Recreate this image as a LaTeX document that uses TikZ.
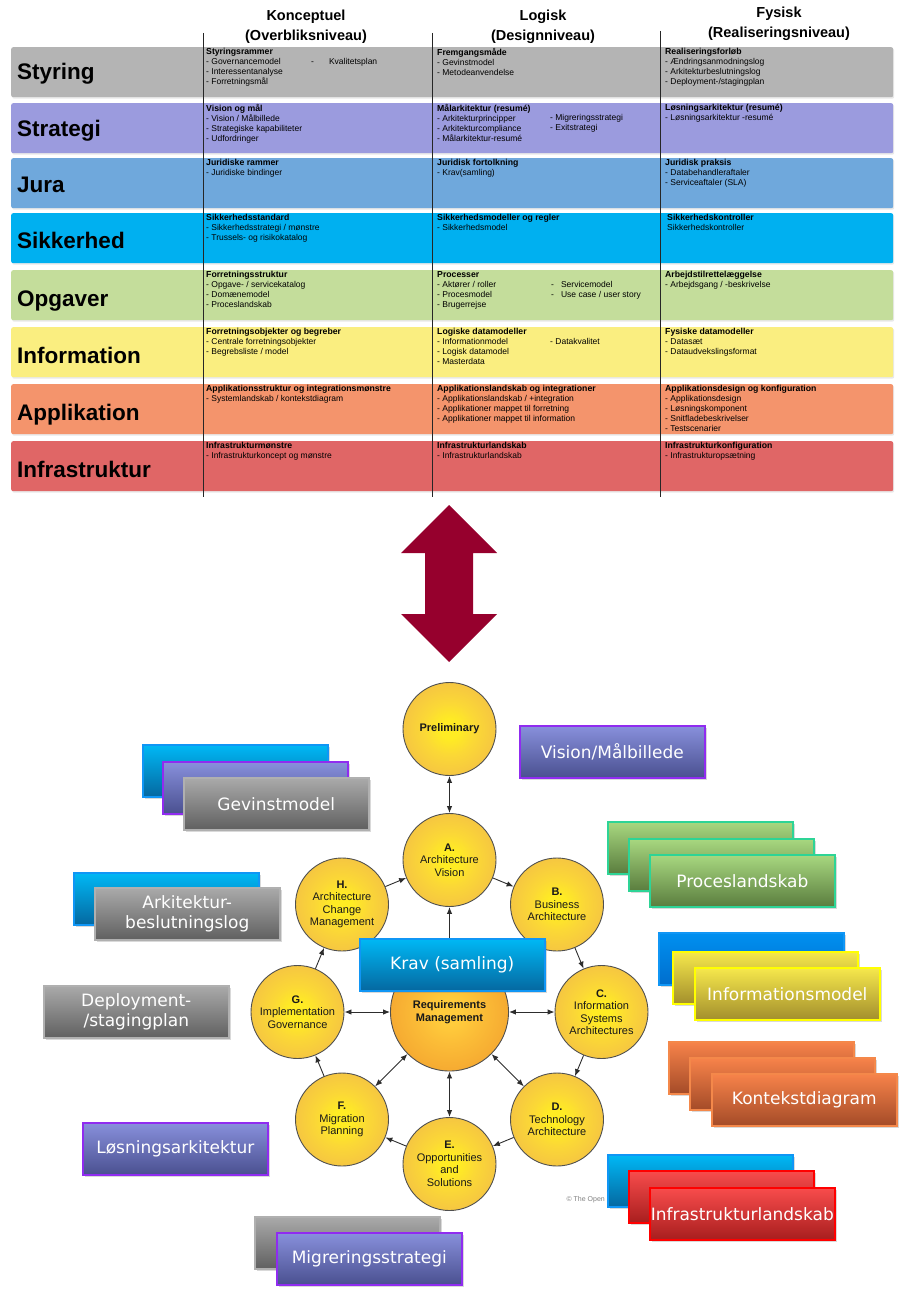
\documentclass[tikz,border=0pt]{standalone}
\usepackage{fontspec}
\setmainfont{Liberation Sans}
\newfontfamily\boxfont{DejaVu Sans}
\usetikzlibrary{arrows.meta,shadows}

\definecolor{rowStyr}{RGB}{180,180,180}
\definecolor{rowStrat}{RGB}{155,155,222}
\definecolor{rowJura}{RGB}{111,168,220}
\definecolor{rowSik}{RGB}{0,176,240}
\definecolor{rowOpg}{RGB}{196,221,155}
\definecolor{rowInfo}{RGB}{250,238,128}
\definecolor{rowApp}{RGB}{244,148,108}
\definecolor{rowInfra}{RGB}{224,102,102}
\definecolor{bigArrow}{RGB}{150,0,45}
\definecolor{ballIn}{RGB}{255,236,35}
\definecolor{ballA}{RGB}{251,216,54}
\definecolor{ballMid}{RGB}{246,200,64}
\definecolor{ballOut}{RGB}{242,190,66}
\definecolor{reqIn}{RGB}{255,204,60}
\definecolor{reqA}{RGB}{251,188,55}
\definecolor{reqMid}{RGB}{246,172,50}
\definecolor{reqOut}{RGB}{238,160,48}
\definecolor{circBorder}{RGB}{80,80,80}
\definecolor{arrowCol}{RGB}{45,45,45}
\definecolor{blueT}{RGB}{0,184,245}
\definecolor{blueB}{RGB}{5,104,160}
\definecolor{blueL}{RGB}{16,150,245}
\definecolor{purpT}{RGB}{136,144,220}
\definecolor{purpB}{RGB}{74,80,144}
\definecolor{purpL}{RGB}{144,44,240}
\definecolor{grayT}{RGB}{170,170,170}
\definecolor{grayB}{RGB}{96,96,96}
\definecolor{grayL}{RGB}{176,176,176}
\definecolor{greenT}{RGB}{168,216,128}
\definecolor{greenB}{RGB}{90,125,62}
\definecolor{greenL}{RGB}{46,212,150}
\definecolor{yelT}{RGB}{246,232,76}
\definecolor{yelB}{RGB}{163,143,44}
\definecolor{yelL}{RGB}{255,255,0}
\definecolor{oraT}{RGB}{247,131,74}
\definecolor{oraB}{RGB}{164,75,40}
\definecolor{oraL}{RGB}{244,136,74}
\definecolor{redT}{RGB}{248,76,76}
\definecolor{redB}{RGB}{168,30,30}
\definecolor{redL}{RGB}{255,0,0}
\definecolor{blue2T}{RGB}{0,144,240}
\definecolor{blue2B}{RGB}{0,110,205}

\pgfdeclareradialshading{ball}{\pgfpoint{0bp}{0bp}}{color(0bp)=(ballIn); color(5bp)=(ballIn); color(14bp)=(ballA); color(24bp)=(ballMid); color(34bp)=(ballOut); color(50bp)=(ballOut)}
\pgfdeclareradialshading{reqball}{\pgfpoint{0bp}{0bp}}{color(0bp)=(reqIn); color(5bp)=(reqIn); color(14bp)=(reqA); color(24bp)=(reqMid); color(34bp)=(reqOut); color(50bp)=(reqOut)}

\newcommand{\ttl}[1]{{\bfseries\fontsize{8.7}{10}\selectfont #1}}

\begin{document}
\begin{tikzpicture}[x=1pt,y=-1pt,
  rowbox/.style={anchor=north west, minimum width=882pt, minimum height=50pt, inner sep=0pt, rounded corners=2pt, drop shadow={shadow xshift=1pt, shadow yshift=-1.5pt, opacity=0.18}},
  rowlabel/.style={anchor=base west, inner sep=0pt, font=\bfseries\fontsize{22.5}{26}\selectfont},
  colhead/.style={align=center, inner sep=0pt, font=\bfseries\fontsize{14.5}{20}\selectfont},
  cell/.style={anchor=north west, inner sep=0pt, align=left, font=\fontsize{8.5}{10}\selectfont},
  subitem/.style={anchor=base west, inner sep=0pt, font=\fontsize{8.5}{10}\selectfont},
  vline/.style={draw=black!85, line width=1pt},
  phase/.style={circle, draw=circBorder, line width=0.9pt, shade, shading=ball, minimum size=93pt, inner sep=0pt, align=center, font=\fontsize{11}{12.5}\selectfont, text=black!90},
  reqphase/.style={phase, shading=reqball, minimum size=118pt},
  conn/.style={draw=arrowCol, line width=0.9pt, -{Latex[length=7pt,width=5.5pt]}},
  dbl/.style={draw=arrowCol, line width=0.9pt, {Latex[length=7pt,width=5.5pt]}-{Latex[length=7pt,width=5.5pt]}},
  card/.style={anchor=north west, minimum width=185pt, minimum height=52pt, inner sep=0pt, line width=1.6pt, align=center, text=white, font=\boxfont\fontsize{17}{19.5}\selectfont, drop shadow={shadow xshift=2pt, shadow yshift=-2.5pt, opacity=0.3}},
  bluecard/.style={card, draw=blueL, top color=blueT, bottom color=blueB},
  blue2card/.style={card, draw=blueL, top color=blue2T, bottom color=blue2B},
  purpcard/.style={card, draw=purpL, top color=purpT, bottom color=purpB},
  graycard/.style={card, draw=grayL, top color=grayT, bottom color=grayB},
  greencard/.style={card, draw=greenL, top color=greenT, bottom color=greenB},
  yelcard/.style={card, draw=yelL, top color=yelT, bottom color=yelB},
  oracard/.style={card, draw=oraL, top color=oraT, bottom color=oraB},
  redcard/.style={card, draw=redL, top color=redT, bottom color=redB}
]
\useasboundingbox (0,0) rectangle (904,1297);

% column headers
\node[colhead] (h1) at (306,27) {Konceptuel\\(Overbliksniveau)};
\node[colhead] (h2) at (543,27) {Logisk\\(Designniveau)};
\node[colhead] (h3) at (779,24) {Fysisk\\(Realiseringsniveau)};

% rows
\node[rowbox, fill=rowStyr] (r0) at (11,47) {};
\node[rowbox, fill=rowStrat] (r1) at (11,103) {};
\node[rowbox, fill=rowJura] (r2) at (11,158) {};
\node[rowbox, fill=rowSik] (r3) at (11,213) {};
\node[rowbox, fill=rowOpg] (r4) at (11,270) {};
\node[rowbox, fill=rowInfo] (r5) at (11,327) {};
\node[rowbox, fill=rowApp] (r6) at (11,384) {};
\node[rowbox, fill=rowInfra] (r7) at (11,441) {};

\node[rowlabel] (l0) at (17,80) {Styring};
\node[rowlabel] (l1) at (17,137) {Strategi};
\node[rowlabel] (l2) at (17,193) {Jura};
\node[rowlabel] (l3) at (17,248) {Sikkerhed};
\node[rowlabel] (l4) at (17,306) {Opgaver};
\node[rowlabel] (l5) at (17,363) {Information};
\node[rowlabel] (l6) at (17,420) {Applikation};
\node[rowlabel] (l7) at (17,477) {Infrastruktur};

% row 0
\node[cell] (c01) at (206,48) {\ttl{Styringsrammer}\\- Governancemodel\\- Interessentanalyse\\- Forretningsmål};
\node[subitem] (c01b) at (311,64.4) {-\hspace{15pt}Kvalitetsplan};
\node[cell] (c02) at (437,48) {\ttl{Fremgangsmåde}\\- Gevinstmodel\\- Metodeanvendelse};
\node[cell] (c03) at (665,48) {\ttl{Realiseringsforløb}\\- Ændringsanmodningslog\\- Arkitekturbeslutningslog\\- Deployment-/stagingplan};
% row 1
\node[cell] (c11) at (206,104) {\ttl{Vision og mål}\\- Vision / Målbillede\\- Strategiske kapabiliteter\\- Udfordringer};
\node[cell] (c12) at (437,104) {\ttl{Målarkitektur (resumé)}\\- Arkitekturprincipper\\- Arkitekturcompliance\\- Målarkitektur-resumé};
\node[subitem] (c12b) at (550,120.4) {- Migreringsstrategi};
\node[subitem] (c12c) at (550,130.4) {- Exitstrategi};
\node[cell] (c13) at (665,104) {\ttl{Løsningsarkitektur (resumé)}\\- Løsningsarkitektur -resumé};
% row 2
\node[cell] (c21) at (206,159) {\ttl{Juridiske rammer}\\- Juridiske bindinger};
\node[cell] (c22) at (437,159) {\ttl{Juridisk fortolkning}\\- Krav(samling)};
\node[cell] (c23) at (665,159) {\ttl{Juridisk praksis}\\- Databehandleraftaler\\- Serviceaftaler (SLA)};
% row 3
\node[cell] (c31) at (206,214) {\ttl{Sikkerhedsstandard}\\- Sikkerhedsstrategi / mønstre\\- Trussels- og risikokatalog};
\node[cell] (c32) at (437,214) {\ttl{Sikkerhedsmodeller og regler}\\- Sikkerhedsmodel};
\node[cell] (c33) at (667,214) {\ttl{Sikkerhedskontroller}\\Sikkerhedskontroller};
% row 4
\node[cell] (c41) at (206,271) {\ttl{Forretningsstruktur}\\- Opgave- / servicekatalog\\- Domænemodel\\- Proceslandskab};
\node[cell] (c42) at (437,271) {\ttl{Processer}\\- Aktører / roller\\- Procesmodel\\- Brugerrejse};
\node[subitem] (c42b) at (551,287.4) {-\hspace{7pt}Servicemodel};
\node[subitem] (c42c) at (551,297.4) {-\hspace{7pt}Use case / user story};
\node[cell] (c43) at (665,271) {\ttl{Arbejdstilrettelæggelse}\\- Arbejdsgang / -beskrivelse};
% row 5
\node[cell] (c51) at (206,328) {\ttl{Forretningsobjekter og begreber}\\- Centrale forretningsobjekter\\- Begrebsliste / model};
\node[cell] (c52) at (437,328) {\ttl{Logiske datamodeller}\\- Informationmodel\\- Logisk datamodel\\- Masterdata};
\node[subitem] (c52b) at (550,344.4) {- Datakvalitet};
\node[cell] (c53) at (665,328) {\ttl{Fysiske datamodeller}\\- Datasæt\\- Dataudvekslingsformat};
% row 6
\node[cell] (c61) at (206,385) {\ttl{Applikationsstruktur og integrationsmønstre}\\- Systemlandskab / kontekstdiagram};
\node[cell] (c62) at (437,385) {\ttl{Applikationslandskab og integrationer}\\- Applikationslandskab / +integration\\- Applikationer mappet til forretning\\- Applikationer mappet til information};
\node[cell] (c63) at (665,385) {\ttl{Applikationsdesign og konfiguration}\\- Applikationsdesign\\- Løsningskomponent\\- Snitfladebeskrivelser\\- Testscenarier};
% row 7
\node[cell] (c71) at (206,442) {\ttl{Infrastrukturmønstre}\\- Infrastrukturkoncept og mønstre};
\node[cell] (c72) at (437,442) {\ttl{Infrastrukturlandskab}\\- Infrastrukturlandskab};
\node[cell] (c73) at (665,442) {\ttl{Infrastrukturkonfiguration}\\- Infrastrukturopsætning};

% vertical separators
\draw[vline] (203,33) -- (203,497);
\draw[vline] (432,33) -- (432,497);
\draw[vline] (660,31) -- (660,497);

% big double arrow
\fill[bigArrow] (449,505) -- (497,553) -- (473,553) -- (473,614) -- (497,614) -- (449,662) -- (401,614) -- (425,614) -- (425,553) -- (401,553) -- cycle;

% back cards
\node[bluecard] (gv1) at (142,744) {};
\node[purpcard] (gv2) at (162,761) {};
\node[graycard] (gv3) at (183,777) {Gevinstmodel};
\node[bluecard] (ak1) at (73,872) {};
\node[graycard] (ak2) at (94,887) {Arkitektur-\\beslutningslog};
\node[graycard] (dep) at (43,985) {Deployment-\\/stagingplan};
\node[purpcard] (vis) at (519,725) {Vision/Målbillede};
\node[greencard] (pl1) at (607,821) {};
\node[greencard] (pl2) at (628,838) {};
\node[greencard] (pl3) at (649,854) {Proceslandskab};
\node[blue2card] (im1) at (658,932) {};
\node[yelcard] (im2) at (672,951) {};
\node[yelcard] (im3) at (694,967) {Informationsmodel};
\node[oracard] (kd1) at (668,1041) {};
\node[oracard] (kd2) at (689,1057) {};
\node[oracard] (kd3) at (711,1073) {Kontekstdiagram};
\node[bluecard] (il1) at (607,1154) {};
\node[redcard] (il2) at (628,1170) {};
\node[redcard] (il3) at (649,1187) {Infrastrukturlandskab};
\node[purpcard] (los) at (82,1122) {Løsningsarkitektur};
\node[graycard] (mg1) at (254,1216) {};
\node[purpcard] (mg2) at (276,1232) {Migreringsstrategi};

% ADM circles
\node[phase] (pre) at (449.5,729) {\textbf{Preliminary}};
\node[phase] (A) at (449.5,860) {\textbf{A.}\\Architecture\\Vision};
\node[phase] (B) at (557,904.5) {\textbf{B.}\\Business\\Architecture};
\node[phase] (C) at (601.5,1012) {\textbf{C.}\\Information\\Systems\\Architectures};
\node[phase] (D) at (557,1119.5) {\textbf{D.}\\Technology\\Architecture};
\node[phase] (E) at (449.5,1164) {\textbf{E.}\\Opportunities\\and\\Solutions};
\node[phase] (F) at (342,1119.5) {\textbf{F.}\\Migration\\Planning};
\node[phase] (G) at (297.5,1012) {\textbf{G.}\\Implementation\\Governance};
\node[phase] (H) at (342,904.5) {\textbf{H.}\\Architecture\\Change\\Management};
\node[reqphase] (req) at (449.5,1012) {\textbf{Requirements}\\\textbf{Management}};

\node[anchor=east, inner sep=0pt, font=\fontsize{7}{8}\selectfont, text=black!50] (copy) at (605,1200) {© The Open};

% connectors
\draw[dbl] (pre) -- (A);
\draw[conn] (A) -- (B);
\draw[conn] (B) -- (C);
\draw[conn] (C) -- (D);
\draw[conn] (D) -- (E);
\draw[conn] (E) -- (F);
\draw[conn] (F) -- (G);
\draw[conn] (G) -- (H);
\draw[conn] (H) -- (A);
\draw[dbl] (req) -- (A);
\draw[dbl] (req) -- (C);
\draw[dbl] (req) -- (D);
\draw[dbl] (req) -- (E);
\draw[dbl] (req) -- (F);
\draw[dbl] (req) -- (G);

% front card over circles
\node[bluecard] (krav) at (359,938) {Krav (samling)};
\end{tikzpicture}
\end{document}
